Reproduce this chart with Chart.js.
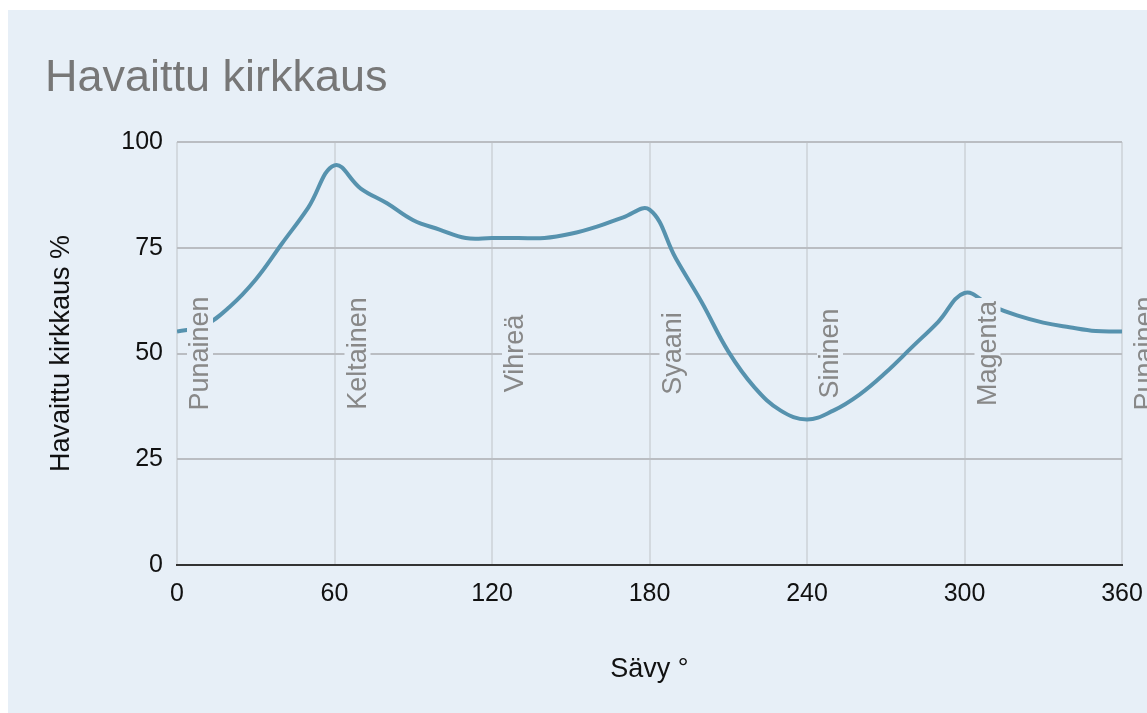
<!DOCTYPE html>
<html>
<head>
<meta charset="utf-8">
<script src="https://cdn.jsdelivr.net/npm/chart.js@4/dist/chart.umd.min.js"></script>
<style>
  body { margin: 0; background: #ffffff; }
  #wrap { position: absolute; left: 8px; top: 10px; width: 1139px; height: 703px; background: #e7eff7; }
</style>
</head>
<body>
<div id="wrap"><canvas id="chart"></canvas></div>
<script>
// hue (degrees) and perceived brightness (%)
var hues = [0, 10, 20, 30, 40, 50, 60, 70, 80, 90, 100, 110, 120, 130, 140, 150, 160, 170, 180,
            190, 200, 210, 220, 230, 240, 250, 260, 270, 280, 290, 300, 310, 320, 330, 340, 350, 360];
var brightness = [55.2, 56.5, 61, 67.5, 76, 84.5, 94.5, 89, 85.5, 81.5, 79.3, 77.3, 77.3, 77.3, 77.3, 78.3, 80, 82.2, 84,
                  72.5, 62, 50.5, 42, 36.5, 34.4, 36.5, 40.3, 45.5, 51.5, 57.5, 64.3, 61.3, 59, 57.3, 56.2, 55.3, 55.2];

var colorNames = ['Punainen', 'Keltainen', 'Vihreä', 'Syaani', 'Sininen', 'Magenta', 'Punainen'];
var colorHues = [0, 60, 120, 180, 240, 300, 360];

var bg = '#e7eff7';
var fontFam = '"Liberation Sans", Arial, sans-serif';

// rotated colour names with a background box over the line
var hueLabels = {
    id: 'hueLabels',
    afterDatasetsDraw: function(chart) {
        var ctx = chart.ctx;
        var xs = chart.scales.x, ys = chart.scales.y;
        ctx.save();
        ctx.font = '27px ' + fontFam;
        ctx.textAlign = 'center';
        ctx.textBaseline = 'middle';
        for (var i = 0; i < colorNames.length; i++) {
            var x = xs.getPixelForValue(colorHues[i]) + 23;
            var y = ys.getPixelForValue(50);
            var w = ctx.measureText(colorNames[i]).width;
            ctx.save();
            ctx.translate(x, y);
            ctx.rotate(-Math.PI / 2);
            ctx.fillStyle = bg;
            ctx.fillRect(-w / 2 - 3, -13, w + 6, 26);
            ctx.fillStyle = '#888888';
            ctx.fillText(colorNames[i], 0, 1);
            ctx.restore();
        }
        ctx.restore();
    }
};

var points = hues.map(function(h, i) { return { x: h, y: brightness[i] }; });

new Chart(document.getElementById('chart'), {
    type: 'line',
    data: {
        datasets: [{
            data: points,
            borderColor: '#5692ae',
            borderWidth: 4,
            pointRadius: 0,
            tension: 0.4,
            fill: false
        }]
    },
    options: {
        responsive: true,
        maintainAspectRatio: false,
        animation: false,
        layout: { padding: { left: 37, right: 25, top: 0, bottom: 0 } },
        plugins: {
            legend: { display: false },
            tooltip: { enabled: false },
            title: {
                display: true,
                text: 'Havaittu kirkkaus',
                align: 'start',
                color: '#777777',
                font: { family: fontFam, size: 45, weight: 'normal' },
                padding: { top: 42, bottom: 36 }
            }
        },
        scales: {
            x: {
                type: 'linear',
                min: 0,
                max: 360,
                ticks: { stepSize: 60, color: '#111111', font: { family: fontFam, size: 25 }, padding: 14, maxRotation: 0 },
                grid: { color: '#d3d9df', lineWidth: 2, drawTicks: false },
                border: { color: '#333333', width: 2 },
                title: { display: true, text: 'Sävy °', color: '#111111', font: { family: fontFam, size: 27 }, padding: { top: 0, bottom: 27 } },
                afterFit: function(s) { s.height = 148; s.paddingLeft = 0; s.paddingRight = 0; }
            },
            y: {
                min: 0,
                max: 100,
                ticks: { stepSize: 25, color: '#111111', font: { family: fontFam, size: 25 }, padding: 14 },
                grid: {
                    color: function(c) { return c.tick && c.tick.value === 0 ? '#333333' : '#babdc2'; },
                    lineWidth: 2,
                    drawTicks: false
                },
                border: { display: false },
                title: { display: true, text: 'Havaittu kirkkaus %', color: '#111111', font: { family: fontFam, size: 27 }, padding: 0 },
                afterFit: function(s) { s.width = 132; }
            }
        }
    },
    plugins: [hueLabels]
});
</script>
</body>
</html>
